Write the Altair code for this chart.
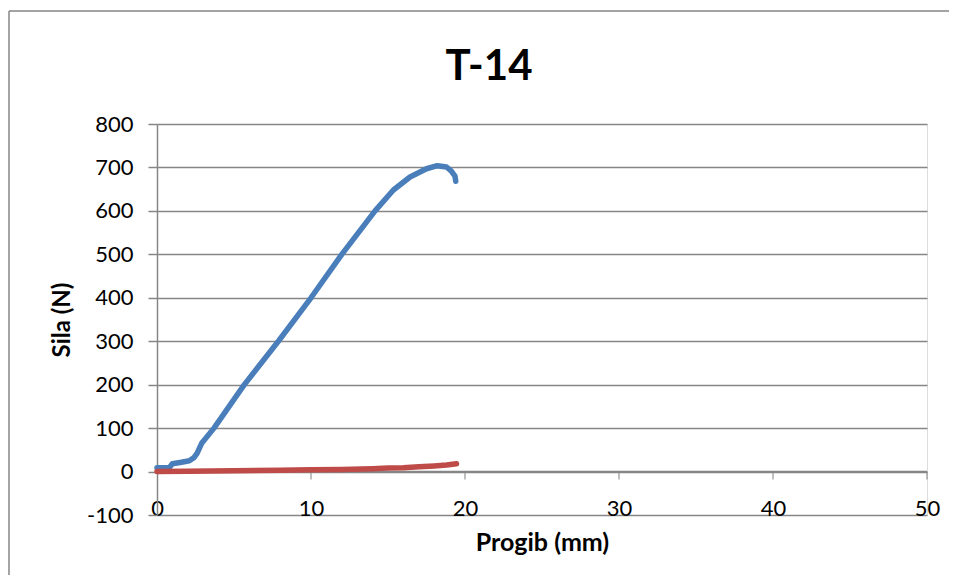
import altair as alt
import pandas as pd

# Blue series (Sila vs Progib)
blue_x = [0, 0.8, 1.0, 1.5, 2.1, 2.4, 2.6, 2.9, 3.7, 5.67, 7.88, 10.0, 12.0, 14.16,
          15.35, 16.43, 17.5, 18.2, 18.8, 19.1, 19.35, 19.4]
blue_y = [9, 9, 18, 21, 25, 32, 42, 65, 100, 200, 300, 400, 500, 600,
          648, 678, 697, 704, 701, 692, 680, 668]
# Red series
red_x = [0, 2, 5, 8, 10, 12, 14, 15, 16, 17, 18, 18.8, 19.45]
red_y = [0, 0.5, 2, 3, 4, 5, 6.5, 8, 9, 11, 13, 15, 18]

x_ticks = [0, 10, 20, 30, 40, 50]
y_ticks = [-100, 0, 100, 200, 300, 400, 500, 600, 700, 800]
chart_title = "T-14"

W, H = 770, 391
FONT = "Lato"
GRID = "#868686"

blue_df = pd.DataFrame({"x": blue_x, "y": blue_y, "i": range(len(blue_x))})
red_df = pd.DataFrame({"x": red_x, "y": red_y, "i": range(len(red_x))})
zero_df = pd.DataFrame({"x0": [x_ticks[0]], "x1": [x_ticks[-1]], "y": [0]})
tick_df = pd.DataFrame({"x": x_ticks[1:], "y": [0] * (len(x_ticks) - 1)})
title_df = pd.DataFrame({"t": [chart_title]})

xs = alt.Scale(domain=[x_ticks[0], x_ticks[-1]], nice=False, zero=False)
ys = alt.Scale(domain=[y_ticks[0], y_ticks[-1]], nice=False, zero=False)

x_axis = alt.Axis(values=x_ticks, title="Progib (mm)", grid=False, domain=False,
                  ticks=False, tickSize=0, labelPadding=0, labelBaseline="alphabetic",
                  labelFlush=False, labelExpr="'' + datum.value",
                  labelFontSize=22, labelFont=FONT, labelColor="#000000",
                  titleFont=FONT, titleFontSize=25, titleFontWeight="bold",
                  titleColor="#000000", titleX=W / 2, titleY=27,
                  titleAlign="center", titleBaseline="middle")
y_axis = alt.Axis(values=y_ticks, title="Sila (N)", grid=True, gridColor=GRID,
                  gridWidth=1.5, domain=True, domainColor=GRID, domainWidth=1.5,
                  ticks=True, tickColor=GRID, tickWidth=1.5, tickSize=9,
                  labelPadding=15, labelFontSize=22, labelFont=FONT,
                  labelFlush=False, labelExpr="'' + datum.value",
                  labelColor="#000000",
                  titleFont=FONT, titleFontSize=24, titleFontWeight="bold",
                  titleColor="#000000", titleX=-95, titleY=H / 2,
                  titleAlign="center", titleBaseline="middle", titleAngle=270)

border_left = alt.Chart(zero_df).mark_rule(stroke=GRID, strokeWidth=1.5).encode(
    x=alt.value(-148), y=alt.value(-113), y2=alt.value(470)
)
border_top = alt.Chart(zero_df).mark_rule(stroke=GRID, strokeWidth=1.5).encode(
    x=alt.value(-148), x2=alt.value(830), y=alt.value(-113)
)

title = alt.Chart(title_df).mark_text(font=FONT, fontSize=42, fontWeight="bold",
                                      color="#000000", align="center",
                                      baseline="alphabetic").encode(
    text="t:N", x=alt.value(332), y=alt.value(-44)
)

base_axes = alt.Chart(zero_df).mark_rule(color=GRID, strokeWidth=1.5).encode(
    x=alt.X("x0:Q", scale=xs, axis=x_axis),
    x2="x1:Q",
    y=alt.Y("y:Q", scale=ys, axis=y_axis),
)

ticks = alt.Chart(tick_df).mark_tick(orient="vertical", size=8, thickness=1.5,
                                     color=GRID, yOffset=4).encode(
    x=alt.X("x:Q", scale=xs), y=alt.Y("y:Q", scale=ys)
)

blue = alt.Chart(blue_df).mark_line(color="#4A7EBB", strokeWidth=5.5, strokeCap="round",
                                    strokeJoin="round").encode(
    x=alt.X("x:Q", scale=xs), y=alt.Y("y:Q", scale=ys), order="i:Q"
)
red = alt.Chart(red_df).mark_line(color="#BE4B48", strokeWidth=5.5, strokeCap="round",
                                  strokeJoin="round").encode(
    x=alt.X("x:Q", scale=xs), y=alt.Y("y:Q", scale=ys), order="i:Q"
)

chart = alt.layer(border_left, border_top, title, base_axes, ticks, blue, red).properties(
    width=W, height=H,
    autosize=alt.AutoSizeParams(type="none"),
    padding={"left": 149, "top": 116, "right": 22, "bottom": 60},
).configure_view(strokeWidth=0).configure(background="white")

chart.save("out.html", embed_options={"renderer": "svg", "actions": False})
